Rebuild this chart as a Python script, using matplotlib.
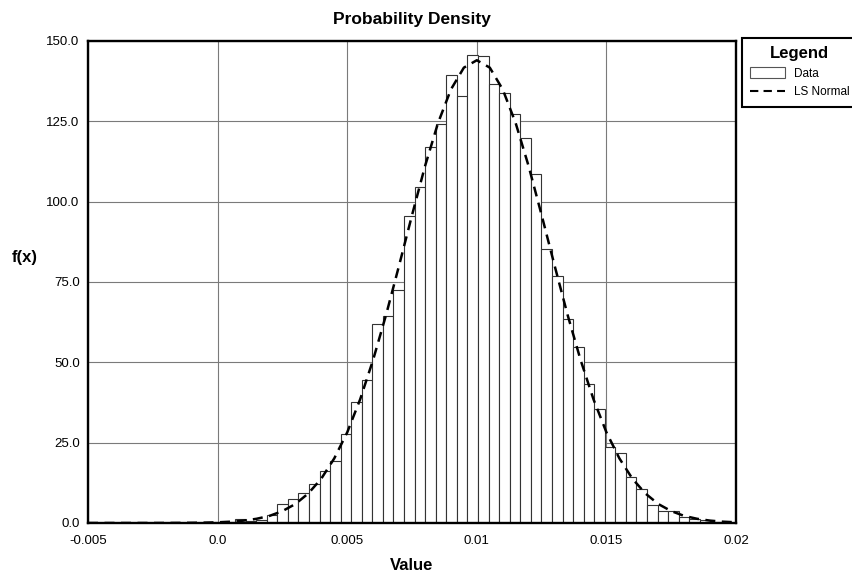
import numpy as np
import matplotlib
matplotlib.use('Agg')
import matplotlib.pyplot as plt
from matplotlib.patches import Patch
from matplotlib.lines import Line2D

plt.rcParams['font.family'] = ['Liberation Sans', 'DejaVu Sans']

# histogram bins
bin_start = -0.000145
bin_width = 0.0004076
heights = [0.2, 0.2, 1.3, 0.7, 1.0, 2.5, 6.0, 7.5, 9.2, 12.0, 16.2, 19.3,
           27.8, 37.7, 44.5, 62.0, 64.5, 72.6, 95.5, 104.5, 117.0, 124.2,
           139.4, 133.0, 145.6, 145.2, 136.5, 133.9, 127.3, 119.8, 108.6,
           85.2, 77.0, 63.4, 54.9, 43.3, 35.4, 23.5, 21.8, 14.3, 10.5, 5.5,
           3.6, 3.6, 2.0, 1.3, 0.9, 0.4]

# LS Normal curve, read every 0.0005 from -0.005 to 0.02
curve_x = np.round(np.arange(-0.005, 0.02001, 0.0005), 5)
curve_y = [0, 0, 0, 0, 0, 0, 0.01, 0.03, 0.06, 0.11,
           0.21, 0.40, 0.73, 1.3, 2.2, 3.7, 5.9, 9.2, 13.8, 20.1,
           28.2, 38.5, 50.8, 64.8, 80.1, 95.8, 111.0, 124.4, 134.9, 141.7,
           144.0, 141.7, 134.9, 124.4, 111.0, 95.8, 80.1, 64.8, 50.8, 38.5,
           28.2, 20.1, 13.8, 9.2, 5.9, 3.7, 2.2, 1.3, 0.73, 0.40, 0.21]

xticks = [-0.005, 0.0, 0.005, 0.01, 0.015, 0.02]
xtick_labels = ['-0.005', '0.0', '0.005', '0.01', '0.015', '0.02']
yticks = [0, 25, 50, 75, 100, 125, 150]

lefts = bin_start + bin_width * np.arange(len(heights))

fig = plt.figure(figsize=(8.52, 5.72), dpi=100)
ax = fig.add_axes([0.1033, 0.0857, 0.7606, 0.8427])

ax.bar(lefts, heights, width=bin_width, align='edge', facecolor='white',
       edgecolor='#333333', linewidth=0.8, zorder=2)
ax.plot(curve_x, curve_y, color='black', linewidth=1.8,
        linestyle=(0, (4, 2.6)), zorder=3)

ax.set_xlim(-0.005, 0.02)
ax.set_ylim(0, 150)
ax.set_xticks(xticks)
ax.set_xticklabels(xtick_labels)
ax.set_yticks(yticks)
ax.set_yticklabels([f'{v:.1f}' for v in yticks])
ax.tick_params(length=0, labelsize=9.5, pad=6)
ax.tick_params(axis='x', pad=9)
ax.grid(True, color='#7a7a7a', linewidth=0.8)
ax.set_axisbelow(True)
for s in ax.spines.values():
    s.set_linewidth(1.7)
    s.set_color('black')

ax.set_title('Probability Density', fontsize=12.5, fontweight='bold', pad=12)
ax.set_xlabel('Value', fontsize=12, fontweight='bold')
ax.xaxis.set_label_coords(0.5, -0.072)
ax.set_ylabel('f(x)', fontsize=12, fontweight='bold', rotation=0,
              va='center', ha='center')
ax.yaxis.set_label_coords(-0.097, 0.551)

# legend box runs past the right edge of the figure, as in the original
handles = [Patch(facecolor='white', edgecolor='#555555', linewidth=0.8),
           Line2D([], [], color='black', linewidth=1.5, linestyle=(0, (4, 2.5)))]
leg = fig.legend(handles, ['Data', 'LS Normal'], loc='upper left',
                 bbox_to_anchor=(0.8709, 0.9336), borderaxespad=0,
                 frameon=True, fancybox=False, edgecolor='black',
                 title='Legend', title_fontproperties={'weight': 'bold', 'size': 12},
                 fontsize=8.5, handlelength=2.9, handleheight=1.1,
                 handletextpad=0.8, borderpad=0.7, labelspacing=0.5)
leg.get_frame().set_linewidth(1.5)
leg.get_frame().set_alpha(None)

fig.savefig('out.png', dpi=100)
